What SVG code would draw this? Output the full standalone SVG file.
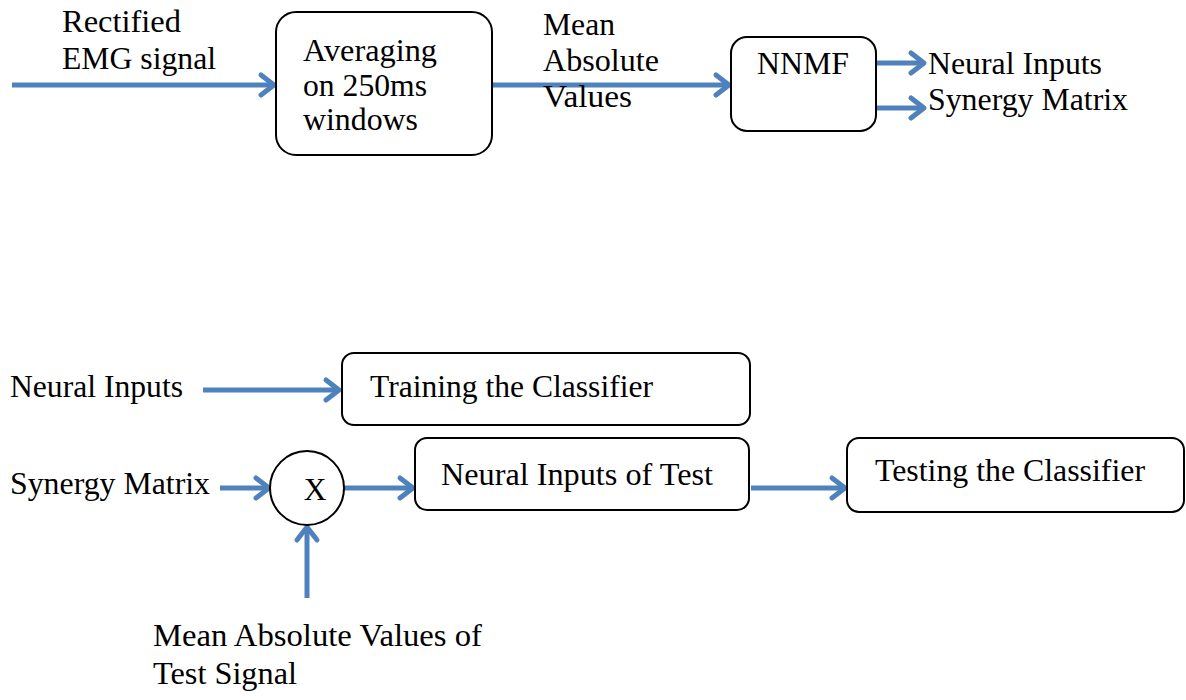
<svg xmlns="http://www.w3.org/2000/svg" width="1186" height="700" viewBox="0 0 1186 700">
<style>
text{font-size:31.5px;fill:#000}
.box{fill:#fff;stroke:#000;stroke-width:2}
.arr{stroke:#4f81bd;stroke-width:5;fill:none;marker-end:url(#ah)}
</style>
<defs>
<marker id="ah" markerUnits="userSpaceOnUse" markerWidth="24" markerHeight="28" viewBox="0 0 24 28" refX="19" refY="14" orient="auto">
<path d="M6,4 L19,14 L6,24" fill="none" stroke="#4f81bd" stroke-width="5" stroke-linecap="round" stroke-linejoin="round"/>
</marker>
</defs>
<rect width="1186" height="700" fill="#fff"/>
<g id="connectors">
<line class="arr" x1="12" y1="85" x2="274" y2="85"/>
<line class="arr" x1="492" y1="85" x2="729" y2="85"/>
<line class="arr" x1="876" y1="63" x2="924" y2="63"/>
<line class="arr" x1="876" y1="108" x2="924" y2="108"/>
<line class="arr" x1="203" y1="390" x2="339" y2="390"/>
<line class="arr" x1="220" y1="488" x2="269" y2="488"/>
<line class="arr" x1="344" y1="488" x2="413" y2="488"/>
<line class="arr" x1="751" y1="488" x2="845" y2="488"/>
<line class="arr" x1="307" y1="598" x2="307" y2="527"/>
</g>
<g font-family="Liberation Serif, Times New Roman, serif">
<g id="label-rectified">
<text x="62" y="32" textLength="119" lengthAdjust="spacingAndGlyphs">Rectified</text>
<text x="62" y="69" textLength="154" lengthAdjust="spacingAndGlyphs">EMG signal</text>
</g>
<g id="node-averaging">
<rect class="box" x="276" y="12" width="216" height="143" rx="20"/>
<text x="303" y="61" textLength="134" lengthAdjust="spacingAndGlyphs">Averaging</text>
<text x="303" y="96" textLength="124" lengthAdjust="spacingAndGlyphs">on 250ms</text>
<text x="303" y="130" textLength="115" lengthAdjust="spacingAndGlyphs">windows</text>
</g>
<g id="label-mav">
<text x="543" y="35" textLength="72" lengthAdjust="spacingAndGlyphs">Mean</text>
<text x="543" y="71" textLength="116" lengthAdjust="spacingAndGlyphs">Absolute</text>
<text x="543" y="107" textLength="89" lengthAdjust="spacingAndGlyphs">Values</text>
</g>
<g id="node-nnmf">
<rect class="box" x="731" y="37" width="145" height="94" rx="16"/>
<text x="757" y="74" textLength="92" lengthAdjust="spacingAndGlyphs">NNMF</text>
</g>
<g id="label-outputs">
<text x="928" y="74" textLength="174" lengthAdjust="spacingAndGlyphs">Neural Inputs</text>
<text x="928" y="110" textLength="200" lengthAdjust="spacingAndGlyphs">Synergy Matrix</text>
</g>
<g id="label-neural-inputs">
<text x="10" y="397" textLength="173" lengthAdjust="spacingAndGlyphs">Neural Inputs</text>
</g>
<g id="node-training">
<rect class="box" x="342" y="353" width="408" height="72" rx="12"/>
<text x="370" y="397" textLength="283" lengthAdjust="spacingAndGlyphs">Training the Classifier</text>
</g>
<g id="label-synergy">
<text x="10" y="494" textLength="200" lengthAdjust="spacingAndGlyphs">Synergy Matrix</text>
</g>
<g id="node-multiply">
<ellipse class="box" cx="307" cy="488" rx="37" ry="37"/>
<text x="315" y="500" text-anchor="middle">X</text>
</g>
<g id="node-neural-test">
<rect class="box" x="415" y="438" width="334" height="72" rx="12"/>
<text x="441" y="485" textLength="272" lengthAdjust="spacingAndGlyphs">Neural Inputs of Test</text>
</g>
<g id="node-testing">
<rect class="box" x="847" y="438" width="337" height="74" rx="12"/>
<text x="875" y="481" textLength="270" lengthAdjust="spacingAndGlyphs">Testing the Classifier</text>
</g>
<g id="label-mav-test">
<text x="153" y="646" textLength="329" lengthAdjust="spacingAndGlyphs">Mean Absolute Values of</text>
<text x="153" y="684" textLength="144" lengthAdjust="spacingAndGlyphs">Test Signal</text>
</g>
</g>
</svg>
